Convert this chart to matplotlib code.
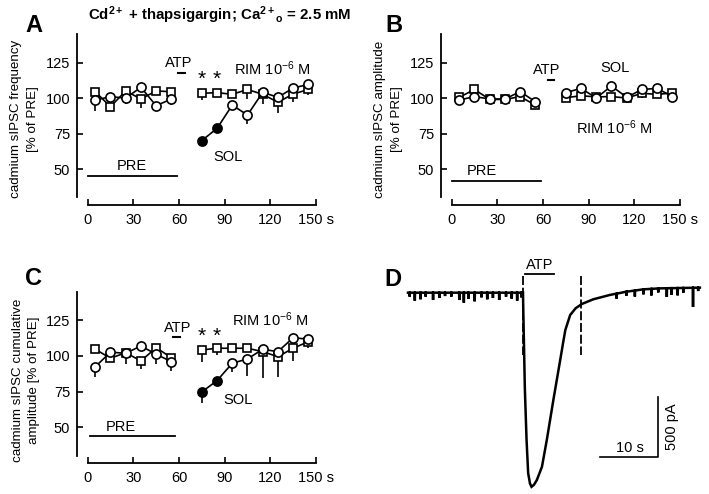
import numpy as np
import matplotlib
matplotlib.use("Agg")
import matplotlib.pyplot as plt

plt.rcParams['font.family'] = ['Liberation Sans', 'DejaVu Sans']
plt.rcParams['mathtext.fontset'] = 'custom'
plt.rcParams['mathtext.rm'] = 'Liberation Sans'
plt.rcParams['mathtext.it'] = 'Liberation Sans:italic'
plt.rcParams['mathtext.bf'] = 'Liberation Sans:bold'
plt.rcParams['mathtext.default'] = 'regular'

# --- data -----------------------------------------------------------------
t_pre = [5, 15, 25, 35, 45, 55]
t_post = [75, 85, 95, 105, 115, 125, 135, 145]
x_ticks = [0, 30, 60, 90, 120, 150]
x_ticklabels = ['0', '30', '60', '90', '120', '150 s']
y_ticks = [50, 75, 100, 125]

# panel A: frequency (open circles = SOL, squares = RIM)
a_circ_pre = [98.6, 100.9, 100.0, 107.5, 94.6, 99.3]
a_circ_pre_err = [7.8, 2.0, 4.5, 2.0, 3.0, 4.0]
a_sq_pre = [104.4, 93.9, 105.0, 99.3, 105.0, 104.4]
a_sq_pre_err = [2.0, 1.5, 2.0, 6.6, 2.0, 2.0]
a_circ_post = [70.0, 78.6, 95.0, 88.0, 104.0, 100.5, 107.0, 109.6]
a_circ_post_err = [4.0, 2.0, 3.0, 6.0, 2.0, 2.0, 2.0, 2.0]
a_sq_post = [103.3, 103.8, 102.6, 106.0, 102.6, 97.0, 102.8, 106.0]
a_sq_post_err = [4.7, 1.5, 2.5, 7.0, 7.0, 7.4, 5.4, 4.2]

# panel B: amplitude
b_circ_pre = [98.6, 101.0, 99.3, 99.3, 104.5, 97.4]
b_circ_pre_err = [1.0, 1.0, 1.0, 1.0, 1.0, 1.0]
b_sq_pre = [100.5, 106.0, 99.0, 99.0, 101.0, 95.0]
b_sq_pre_err = [1.0, 1.0, 1.0, 1.0, 1.0, 1.0]
b_circ_post = [103.8, 106.8, 100.0, 108.5, 100.5, 106.0, 106.8, 101.0]
b_circ_post_err = [1.0, 1.0, 2.5, 1.0, 1.0, 1.0, 1.0, 1.0]
b_sq_post = [100.2, 101.6, 100.8, 101.0, 100.0, 103.3, 102.6, 103.5]
b_sq_post_err = [2.5, 1.0, 1.0, 2.5, 1.0, 3.0, 2.5, 1.0]

# panel C: cumulative amplitude
c_circ_pre = [92.5, 102.6, 101.9, 107.0, 101.2, 96.0]
c_circ_pre_err = [7.5, 1.5, 7.5, 2.0, 6.8, 6.3]
c_sq_pre = [104.7, 98.4, 102.3, 96.5, 105.8, 98.8]
c_sq_pre_err = [2.0, 1.5, 2.0, 5.8, 2.0, 2.0]
c_circ_post = [74.8, 82.7, 94.9, 97.9, 104.7, 103.0, 112.8, 111.7]
c_circ_post_err = [8.0, 2.0, 5.9, 11.9, 2.0, 2.0, 2.0, 2.0]
c_sq_post = [104.2, 105.4, 105.4, 105.4, 103.0, 99.5, 105.4, 110.0]
c_sq_post_err = [8.2, 4.7, 2.0, 2.0, 18.2, 14.5, 8.7, 4.6]

# panel D: current trace (s, pA) and spontaneous IPSCs (s, amplitude pA)
trace_t = [-20.2, -10.0, -0.02, 0.0, 0.3, 0.6, 0.88, 1.2, 1.47, 1.9, 2.4,
           3.3, 4.15, 5.3, 6.5, 7.0, 7.4, 8.25, 9.2, 10.3, 12.3, 15.2, 18.1,
           21.1, 24.0, 31.0]
trace_i = [0, 0, 0, -80, -800, -1227, -1503, -1590, -1617, -1600, -1561,
           -1450, -1227, -894, -561, -420, -311, -186, -130, -94, -55, -19,
           8, 28, 36, 42]
event_t = [-19.9, -19.0, -18.0, -17.1, -15.8, -14.7, -13.7, -12.6, -11.2,
           -10.4, -9.6, -8.5, -7.3, -6.3, -5.3, -4.2, -3.0, -2.0, -1.05,
           -0.3, 16.4, 18.1, 19.6, 21.1, 22.5, 23.7, 25.2, 26.0, 27.1,
           28.1, 29.8, 30.7]
event_amp = [33, 67, 55, 33, 61, 44, 28, 33, 61, 83, 50, 72, 39, 55, 44,
             61, 33, 50, 67, 39, 42, 33, 50, 42, 55, 33, 72, 55, 61, 39,
             160, 28]

# --- figure ---------------------------------------------------------------
W, H = 709, 494
fig = plt.figure(figsize=(W / 100, H / 100), dpi=100)


def px_axes(left, top, right, bottom):
    return fig.add_axes([left / W, 1 - bottom / H, (right - left) / W,
                         (bottom - top) / H])


def draw_panel(ax, cp, cpe, sp, spe, cq, cqe, sq, sqe, n_filled):
    lw = 1.2
    ms = 6.6
    for t, v, e in [(t_pre, cp, cpe), (t_pre, sp, spe),
                    (t_post, cq, cqe), (t_post, sq, sqe)]:
        ax.errorbar(t, v, yerr=[e, np.zeros(len(e))], fmt='none',
                    ecolor='black', elinewidth=lw, capsize=0, zorder=1)
    ax.plot(t_pre, sp, 's-', color='black', mfc='white', mec='black',
            ms=ms - 0.4, mew=1.2, lw=lw, zorder=2)
    ax.plot(t_post, sq, 's-', color='black', mfc='white', mec='black',
            ms=ms - 0.4, mew=1.2, lw=lw, zorder=2)
    ax.plot(t_pre, cp, 'o-', color='black', mfc='white', mec='black',
            ms=ms, mew=1.2, lw=lw, zorder=3)
    ax.plot(t_post, cq, '-', color='black', lw=lw, zorder=3)
    ax.plot(t_post[n_filled:], cq[n_filled:], 'o', mfc='white',
            mec='black', ms=ms, mew=1.2, zorder=4)
    if n_filled:
        ax.plot(t_post[:n_filled], cq[:n_filled], 'o', mfc='black',
                mec='black', ms=ms, mew=1.2, zorder=4)

    ax.set_xlim(-7, 152)
    ax.set_ylim(25, 146)
    for s in ['top', 'right']:
        ax.spines[s].set_visible(False)
    ax.spines['left'].set_bounds(30, 145)
    ax.spines['bottom'].set_bounds(0, 150)
    ax.spines['left'].set_linewidth(1.3)
    ax.spines['bottom'].set_linewidth(1.3)
    ax.set_xticks(x_ticks)
    ax.set_xticklabels(x_ticklabels)
    ax.set_yticks(y_ticks)
    ax.tick_params(axis='both', direction='in', length=4, width=1.2,
                   labelsize=10.5, colors='black')
    ax.tick_params(axis='x', pad=6)
    ax.tick_params(axis='y', pad=5)
    ax.patch.set_visible(False)


fs = 10.5
fs_lab = 9.6

# panel A
axA = px_axes(77, 32.7, 319, 204.5)
draw_panel(axA, a_circ_pre, a_circ_pre_err, a_sq_pre, a_sq_pre_err,
           a_circ_post, a_circ_post_err, a_sq_post, a_sq_post_err, 2)
axA.text(60, 124.6, 'ATP', ha='center', va='center', fontsize=fs)
axA.plot([59.5, 64], [117.6, 117.6], color='black', lw=1.5)
for t in [75, 85]:
    axA.text(t, 113.5, '*', ha='center', va='center', fontsize=15)
axA.text(121, 120.5, r'RIM 10$^{-6}$ M', ha='center', va='center', fontsize=fs)
axA.text(92, 58.7, 'SOL', ha='center', va='center', fontsize=fs)
axA.text(29, 52.3, 'PRE', ha='center', va='center', fontsize=fs)
axA.plot([0.5, 59], [45.3, 45.3], color='black', lw=1.3)

# panel B
axB = px_axes(441, 32.7, 683, 204.5)
draw_panel(axB, b_circ_pre, b_circ_pre_err, b_sq_pre, b_sq_pre_err,
           b_circ_post, b_circ_post_err, b_sq_post, b_sq_post_err, 0)
axB.text(62.7, 119.7, 'ATP', ha='center', va='center', fontsize=fs)
axB.plot([63, 67.5], [112.7, 112.7], color='black', lw=1.5)
axB.text(107, 121, 'SOL', ha='center', va='center', fontsize=fs)
axB.text(107, 79, r'RIM 10$^{-6}$ M', ha='center', va='center', fontsize=fs)
axB.text(20, 48.6, 'PRE', ha='center', va='center', fontsize=fs)
axB.plot([0, 59], [41.5, 41.5], color='black', lw=1.3)

# panel C
axC = px_axes(77, 290.3, 319, 463)
draw_panel(axC, c_circ_pre, c_circ_pre_err, c_sq_pre, c_sq_pre_err,
           c_circ_post, c_circ_post_err, c_sq_post, c_sq_post_err, 2)
axC.text(59, 119.4, 'ATP', ha='center', va='center', fontsize=fs)
axC.plot([56, 60.5], [113.5, 113.5], color='black', lw=1.5)
for t in [75, 85]:
    axC.text(t, 114, '*', ha='center', va='center', fontsize=15)
axC.text(120, 125.2, r'RIM 10$^{-6}$ M', ha='center', va='center', fontsize=fs)
axC.text(99, 69.2, 'SOL', ha='center', va='center', fontsize=fs)
axC.text(22, 50.5, 'PRE', ha='center', va='center', fontsize=fs)
axC.plot([1.3, 57.6], [44.2, 44.2], color='black', lw=1.3)

# y labels
fig.text(24.5 / W, 1 - 119 / H, 'cadmium sIPSC frequency\n[% of PRE]',
         rotation=90, ha='center', va='center', multialignment='center',
         fontsize=fs_lab, linespacing=1.45)
fig.text(388.5 / W, 1 - 119 / H, 'cadmium sIPSC amplitude\n[% of PRE]',
         rotation=90, ha='center', va='center', multialignment='center',
         fontsize=fs_lab, linespacing=1.45)
fig.text(26 / W, 1 - 380 / H, 'cadmium sIPSC cumulative\namplitude [% of PRE]',
         rotation=90, ha='center', va='center', multialignment='center',
         fontsize=fs_lab, linespacing=1.45)

# panel D
axD = px_axes(400, 255, 705, 494)
axD.set_xlim(-21.6, 31.9)
axD.set_ylim(-1677, 314)
axD.axis('off')

tt = list(trace_t)
ii = list(trace_i)
for t, a in zip(event_t, event_amp):
    base = np.interp(t, trace_t, trace_i)
    tt += [t - 0.04, t, t + 0.04]
    ii += [base, base - a, base]
order = np.argsort(tt, kind='stable')
axD.plot(np.array(tt)[order], np.array(ii)[order], color='black', lw=1.8,
         solid_joinstyle='miter')

for t in [0.0, 10.2]:
    axD.plot([t, t], [136, -519], color='black', lw=1.3,
             dashes=(5, 1.5))
axD.plot([0.3, 5.4], [156, 156], color='black', lw=1.3)
axD.text(2.9, 175, 'ATP', ha='center', va='bottom', fontsize=fs)

axD.plot([13.5, 23.6, 23.6], [-1367, -1367, -867], color='black', lw=1.2)
axD.text(18.7, -1350, '10 s', ha='center', va='bottom', fontsize=fs)
axD.text(24.8, -1117, '500 pA', ha='left', va='center', rotation=90,
         fontsize=fs)

# panel letters and title
for letter, x, y in [('A', 33.5, 25), ('B', 393.5, 25), ('C', 33.5, 278.5),
                     ('D', 392.5, 279.5)]:
    fig.text(x / W, 1 - y / H, letter, ha='center', va='center',
             fontsize=17, fontweight='bold')
fig.text(220 / W, 1 - 15 / H,
         r'$\mathbf{Cd^{2+}}$ + thapsigargin; $\mathbf{Ca^{2+}}$$_{\mathbf{o}}$ = 2.5 mM',
         ha='center', va='center', fontsize=10.8, fontweight='bold')

fig.savefig('out.png', dpi=100)
